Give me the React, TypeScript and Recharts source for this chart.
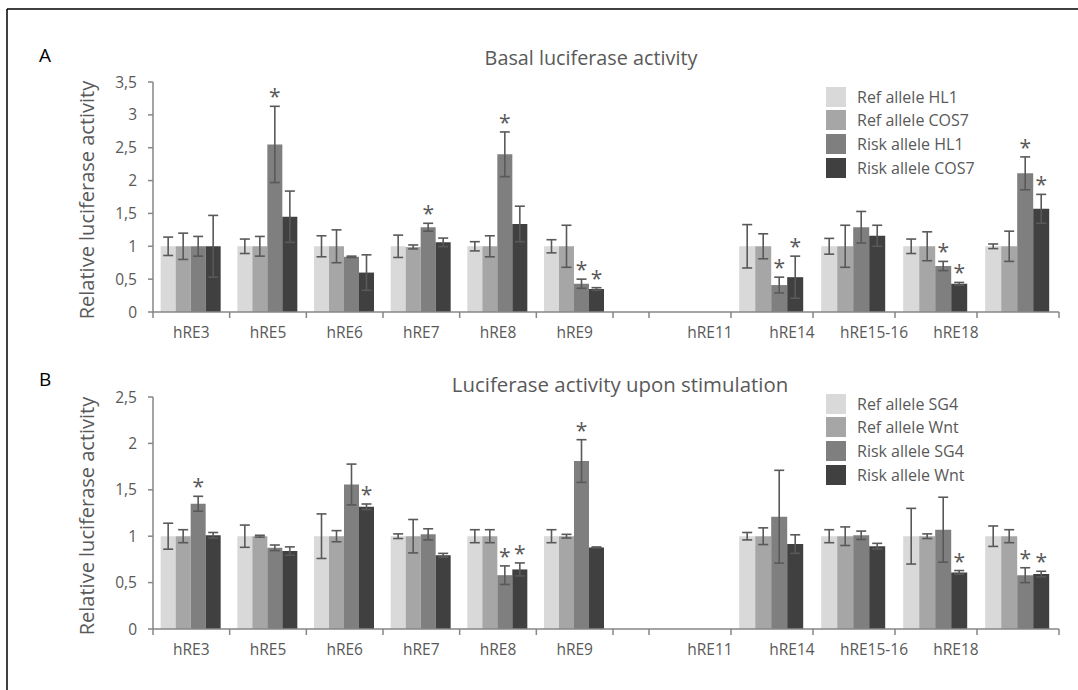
import React from 'react';
import { BarChart, Bar, XAxis, YAxis, ErrorBar, LabelList, Legend } from 'recharts';

const FONT = '"Open Sans", "Noto Sans", sans-serif';
const TEXT = '#595959';
const AXIS = '#868686';
const COLORS = ['#d9d9d9', '#a6a6a6', '#7f7f7f', '#404040'];

// x categories as labelled in the figure (index 6 holds no bars)
const categories = ['hRE3', 'hRE5', 'hRE6', 'hRE7', 'hRE8', 'hRE9', 'hRE11', 'hRE14', 'hRE15-16', 'hRE18', ''];
const SPLIT = 6;

// A: basal luciferase activity
const basalNames = ['Ref allele HL1', 'Ref allele COS7', 'Risk allele HL1', 'Risk allele COS7'];
const basalRefHL1 = [1, 1, 1, 1, 1, 1, null, 1, 1, 1, 1];
const basalRefCOS7 = [1, 1, 1, 0.99, 1, 1, null, 1, 1, 1, 1];
const basalRiskHL1 = [1, 2.55, 0.84, 1.29, 2.4, 0.43, null, 0.41, 1.29, 0.7, 2.11];
const basalRiskCOS7 = [1, 1.45, 0.6, 1.06, 1.34, 0.35, null, 0.53, 1.16, 0.43, 1.57];
const basalErrRefHL1 = [0.14, 0.11, 0.16, 0.17, 0.07, 0.1, null, 0.33, 0.12, 0.11, 0.035];
const basalErrRefCOS7 = [0.2, 0.15, 0.25, 0.03, 0.16, 0.32, null, 0.19, 0.32, 0.22, 0.23];
const basalErrRiskHL1 = [0.15, 0.58, 0.01, 0.06, 0.34, 0.07, null, 0.12, 0.24, 0.07, 0.25];
const basalErrRiskCOS7 = [0.47, 0.39, 0.27, 0.065, 0.27, 0.02, null, 0.32, 0.16, 0.02, 0.22];
const basalStarRiskHL1 = [0, 1, 0, 1, 1, 1, 0, 1, 0, 1, 1];
const basalStarRiskCOS7 = [0, 0, 0, 0, 0, 1, 0, 1, 0, 1, 1];

// B: upon stimulation
const stimNames = ['Ref allele SG4', 'Ref allele Wnt', 'Risk allele SG4', 'Risk allele Wnt'];
const stimRefSG4 = [1, 1, 1, 1, 1, 1, null, 1, 1, 1, 1];
const stimRefWnt = [1, 1, 1, 1, 1, 1, null, 1, 1, 1, 1];
const stimRiskSG4 = [1.35, 0.875, 1.557, 1.02, 0.58, 1.81, null, 1.21, 1.01, 1.07, 0.58];
const stimRiskWnt = [1.01, 0.84, 1.317, 0.795, 0.642, 0.879, null, 0.915, 0.893, 0.61, 0.592];
const stimErrRefSG4 = [0.14, 0.12, 0.24, 0.025, 0.07, 0.07, null, 0.04, 0.07, 0.3, 0.11];
const stimErrRefWnt = [0.07, 0.01, 0.06, 0.18, 0.07, 0.02, null, 0.09, 0.1, 0.025, 0.07];
const stimErrRiskSG4 = [0.08, 0.03, 0.22, 0.06, 0.1, 0.23, null, 0.5, 0.045, 0.35, 0.08];
const stimErrRiskWnt = [0.03, 0.045, 0.03, 0.02, 0.07, 0.005, null, 0.1, 0.03, 0.02, 0.03];
const stimStarRiskSG4 = [1, 0, 0, 0, 1, 1, 0, 0, 0, 0, 1];
const stimStarRiskWnt = [0, 0, 1, 0, 1, 0, 0, 0, 0, 1, 1];

const noStars = categories.map(() => 0);

const basalTicks = [0, 0.5, 1, 1.5, 2, 2.5, 3, 3.5];
const stimTicks = [0, 0.5, 1, 1.5, 2, 2.5];

type Row = Record<string, any>;

function buildRows(series: (number | null)[][], errors: (number | null)[][], stars: number[][]): Row[] {
  return categories.map((name, i) => {
    const row: Row = { name };
    series.forEach((s, k) => {
      row[`v${k}`] = s[i];
      row[`e${k}`] = errors[k][i];
      row[`s${k}`] = stars[k][i];
    });
    return row;
  });
}

const basalRows = buildRows(
  [basalRefHL1, basalRefCOS7, basalRiskHL1, basalRiskCOS7],
  [basalErrRefHL1, basalErrRefCOS7, basalErrRiskHL1, basalErrRiskCOS7],
  [noStars, noStars, basalStarRiskHL1, basalStarRiskCOS7]
);
const stimRows = buildRows(
  [stimRefSG4, stimRefWnt, stimRiskSG4, stimRiskWnt],
  [stimErrRefSG4, stimErrRefWnt, stimErrRiskSG4, stimErrRiskWnt],
  [noStars, noStars, stimStarRiskSG4, stimStarRiskWnt]
);

// tick marks sit on the category boundaries, like Excel
function BoundaryTick(props: any) {
  const { x, y, payload, index, visibleTicksCount, labelDx = 0 } = props;
  const half = payload?.offset ?? 0;
  const axisY = y - 7;
  const last = index === visibleTicksCount - 1;
  return (
    <g>
      <line x1={x - half} x2={x - half} y1={axisY} y2={axisY + 6} stroke={AXIS} strokeWidth={1.5} />
      {last && <line x1={x + half} x2={x + half} y1={axisY} y2={axisY + 6} stroke={AXIS} strokeWidth={1.5} />}
      <text x={x + labelDx} y={axisY + 26} textAnchor="middle" fontSize={15.5} fill={TEXT} fontFamily={FONT}>
        {payload.value}
      </text>
    </g>
  );
}

// label value is the category name, so nulls in the series don't shift lookups
function starLabel(rows: Row[], k: number) {
  return (p: any) => {
    const row = rows.find((r) => r.name === p.value);
    if (!row || !row[`s${k}`] || row[`v${k}`] == null) return null;
    const vb = p.viewBox ?? p;
    const { x, y, width, height } = vb;
    const perUnit = height / row[`v${k}`];
    const top = y - (row[`e${k}`] ?? 0) * perUnit;
    return (
      <text x={x + width / 2} y={top - 2} textAnchor="middle" fontSize={21} fill={TEXT} fontFamily={FONT}>
        *
      </text>
    );
  };
}

function LegendBox(props: any) {
  const items = [...(props.payload ?? [])].sort((a: any, b: any) =>
    String(a.dataKey).localeCompare(String(b.dataKey))
  );
  return (
    <div style={{ fontFamily: FONT }}>
      {items.map((it: any) => (
        <div key={it.value} style={{ display: 'flex', alignItems: 'center', height: 23.6 }}>
          <div style={{ width: 20, height: 20, background: it.color, marginRight: 11 }} />
          <span style={{ fontSize: 16, color: TEXT }}>{it.value}</span>
        </div>
      ))}
    </div>
  );
}

function series(rows: Row[], names: string[]) {
  return names.map((n, k) => (
    <Bar key={n} dataKey={`v${k}`} name={n} fill={COLORS[k]} isAnimationActive={false}>
      <ErrorBar dataKey={`e${k}`} stroke={TEXT} strokeWidth={1.6} width={5} isAnimationActive={false} />
      <LabelList dataKey="name" content={starLabel(rows, k)} />
    </Bar>
  ));
}

interface PanelProps {
  rows: Row[];
  names: string[];
  ticks: number[];
  top: number;
  height: number;
  marginTop: number;
  marginBottom: number;
  legendTop: number;
}

function Panel({ rows, names, ticks, top, height, marginTop, marginBottom, legendTop }: PanelProps) {
  const left = rows.slice(0, SPLIT);
  const right = rows.slice(SPLIT);
  const yMax = ticks[ticks.length - 1];
  const fmt = (v: number) => String(v).replace('.', ',');
  return (
    <>
      <div style={{ position: 'absolute', left: 0, top }}>
        <BarChart
          width={620}
          height={height}
          data={left}
          margin={{ top: marginTop, right: 7, bottom: marginBottom, left: 0 }}
          barCategoryGap="10%"
          barGap={0}
        >
          <XAxis
            dataKey="name"
            interval={0}
            height={30}
            tickLine={false}
            tickSize={5}
            tickMargin={2}
            axisLine={{ stroke: AXIS, strokeWidth: 1.5 }}
            tick={<BoundaryTick />}
          />
          <YAxis
            width={153}
            domain={[0, yMax]}
            ticks={ticks}
            tickFormatter={fmt}
            tickSize={5}
            tickMargin={11}
            axisLine={{ stroke: AXIS, strokeWidth: 1.5 }}
            tickLine={{ stroke: AXIS, strokeWidth: 1.5 }}
            tick={{ fill: TEXT, fontSize: 15.5, fontFamily: FONT }}
          />
          {series(left, names)}
        </BarChart>
      </div>
      <div style={{ position: 'absolute', left: 613, top }}>
        <BarChart
          width={465}
          height={height}
          data={right}
          margin={{ top: marginTop, right: 19, bottom: marginBottom, left: 0 }}
          barCategoryGap="10%"
          barGap={0}
        >
          <XAxis
            dataKey="name"
            interval={0}
            height={30}
            padding={{ left: 36, right: 0 }}
            tickLine={false}
            tickSize={5}
            tickMargin={2}
            axisLine={{ stroke: AXIS, strokeWidth: 1.5 }}
            tick={<BoundaryTick labelDx={20} />}
          />
          <YAxis hide domain={[0, yMax]} ticks={ticks} />
          <Legend
            layout="vertical"
            align="center"
            verticalAlign="middle"
            content={<LegendBox />}
            wrapperStyle={{ left: 213, top: legendTop, width: 240 }}
          />
          {series(right, names)}
        </BarChart>
      </div>
    </>
  );
}

export default function App() {
  const yLabel = 'Relative luciferase activity';
  return (
    <div style={{ position: 'absolute', left: 0, top: 0, width: 1078, height: 690, background: '#fff', overflow: 'hidden' }}>
      <svg width={1078} height={690} style={{ position: 'absolute', left: 0, top: 0 }}>
        <line x1={7} y1={9} x2={1078} y2={9} stroke="#000" strokeWidth={1.5} />
        <line x1={7} y1={9} x2={7} y2={690} stroke="#000" strokeWidth={1.5} />
        <text x={39} y={62} fontSize={19} fill="#000" fontFamily={FONT}>A</text>
        <text x={39} y={386} fontSize={19} fill="#000" fontFamily={FONT}>B</text>
        <text x={591} y={65} textAnchor="middle" fontSize={19.8} fill={TEXT} fontFamily={FONT}>
          Basal luciferase activity
        </text>
        <text x={620} y={392} textAnchor="middle" fontSize={20.4} fill={TEXT} fontFamily={FONT}>
          Luciferase activity upon stimulation
        </text>
        <text x={0} y={0} transform="translate(94,200) rotate(-90)" textAnchor="middle" fontSize={20} fill={TEXT} fontFamily={FONT}>
          {yLabel}
        </text>
        <text x={0} y={0} transform="translate(94,516) rotate(-90)" textAnchor="middle" fontSize={20} fill={TEXT} fontFamily={FONT}>
          {yLabel}
        </text>
      </svg>
      <Panel rows={basalRows} names={basalNames} ticks={basalTicks} top={0} height={345} marginTop={82} marginBottom={3} legendTop={85} />
      <Panel rows={stimRows} names={stimNames} ticks={stimTicks} top={340} height={330} marginTop={57} marginBottom={11} legendTop={52} />
    </div>
  );
}
